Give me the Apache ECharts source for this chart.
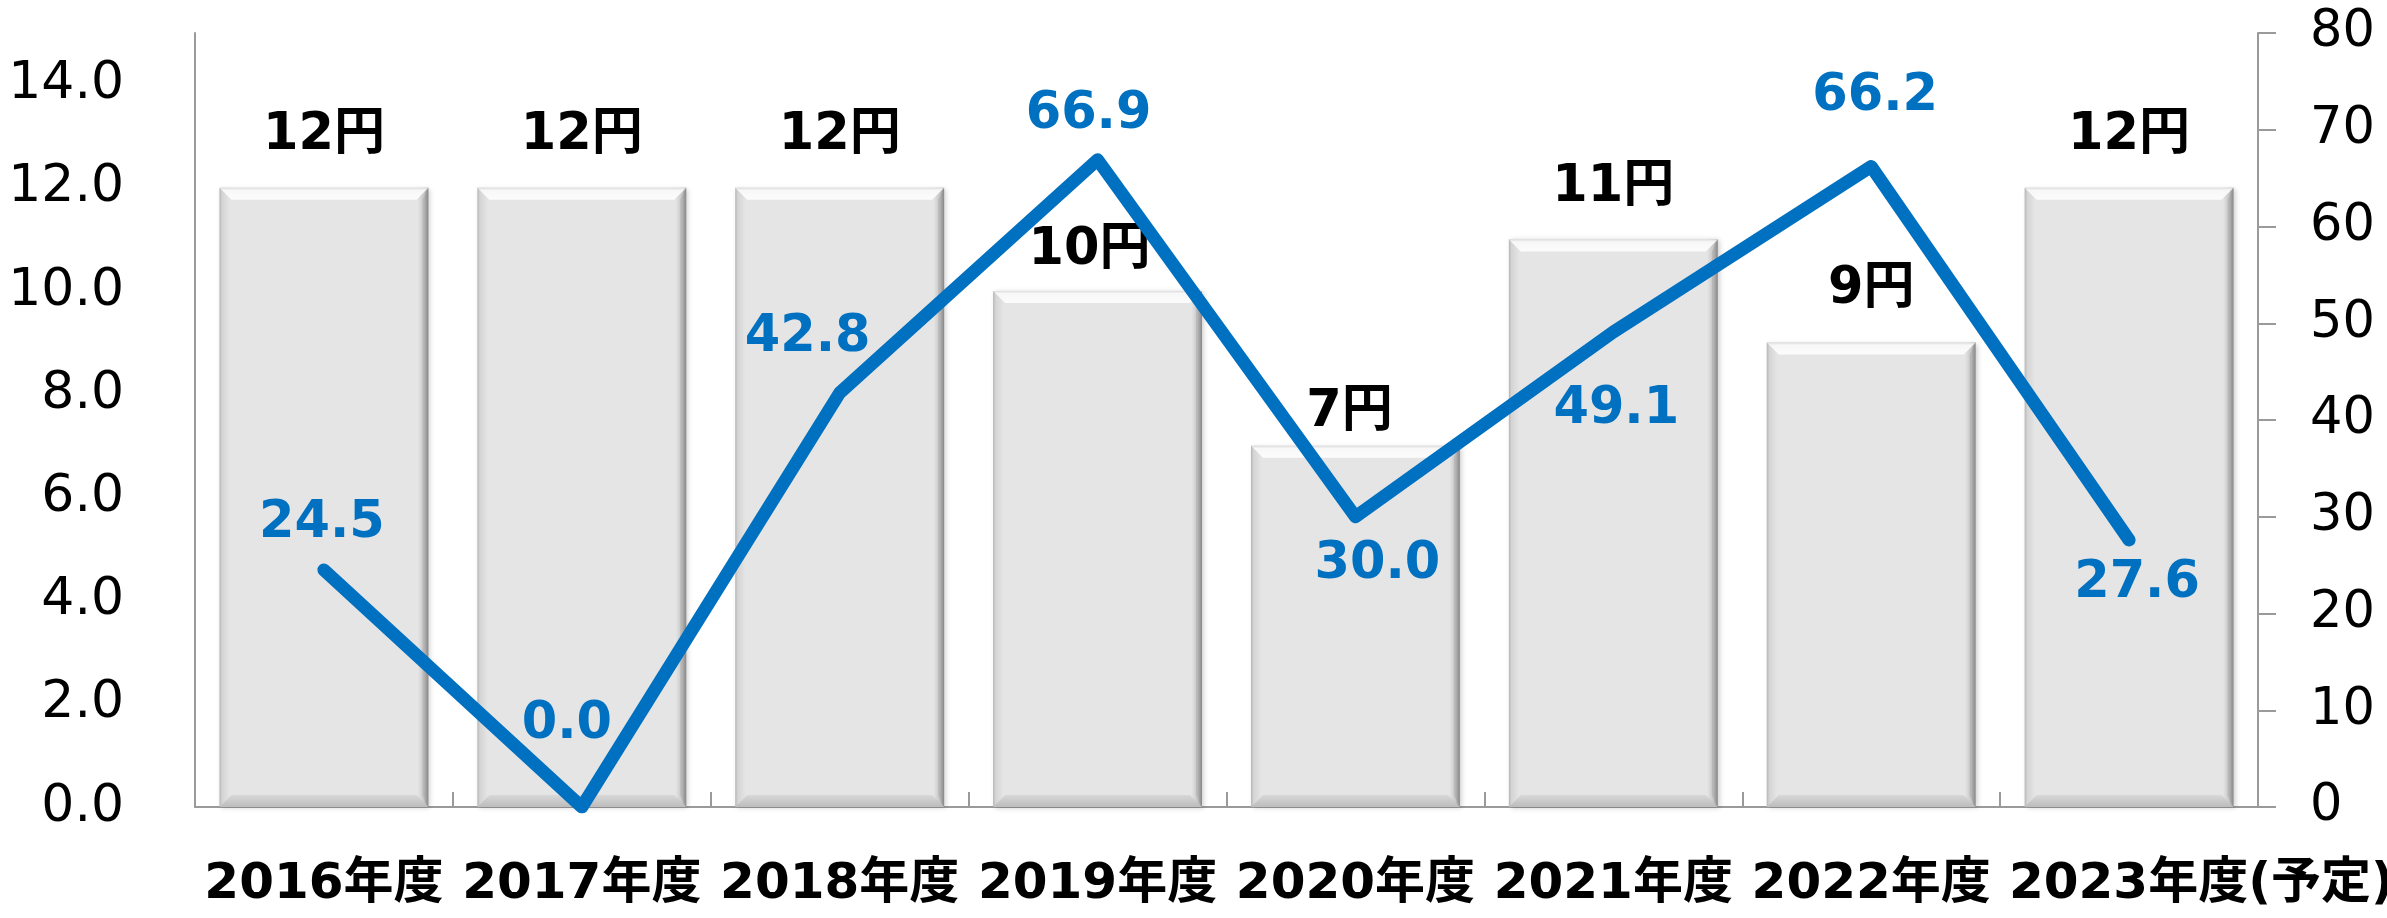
<!DOCTYPE html>
<html>
<head>
<meta charset="utf-8">
<script src="https://cdn.jsdelivr.net/npm/echarts@6/dist/echarts.min.js"></script>
<style>
  html, body { margin: 0; padding: 0; background: #ffffff; }
  #chart { width: 2387px; height: 918px; }
</style>
</head>
<body>
<div id="chart"></div>
<script>
// Fiscal years on the category axis
const fiscalYears = ['2016年度', '2017年度', '2018年度', '2019年度', '2020年度', '2021年度', '2022年度', '2023年度(予定)'];
// Annual dividend per share (yen), left axis
const dividendYen = [12, 12, 12, 10, 7, 11, 9, 12];
// Payout ratio (%), right axis
const payoutRatio = [24.5, 0.0, 42.8, 66.9, 30.0, 49.1, 66.2, 27.6];

// Axis ranges
const leftAxisMax = 15, leftAxisStep = 2;
const rightAxisMax = 80, rightAxisStep = 10;

// Label placement (pixels): dividend labels sit above the bar top, ratio labels around the line vertex
const dividendLabelLift = [52, 52, 52, 40, 33, 52, 53, 52];
const dividendLabelShift = [0, 0, 0, -8, -6, 0, 0, 0];
const ratioLabelOffsets = [[-2, -46], [-15, -82], [-32, -55], [-9, -45], [22, 48], [3, 78], [4, -70], [8, 44]];

const FONT = "'DejaVu Sans', 'Noto Sans CJK JP', sans-serif";
const AXIS_GRAY = '#9a9a9a';
const BLUE = '#0070C0';

const chart = echarts.init(document.getElementById('chart'), null, { renderer: 'canvas' });

// Bevelled grey column drawn from the axis scales
function renderBevelBar(params, api) {
  const idx = api.value(0);
  const val = api.value(1);
  const top = api.coord([idx, val]);
  const base = api.coord([idx, 0]);
  const w = api.size([1, 0])[0] * 0.81;
  const cx = top[0];
  const x0 = cx - w / 2, x1 = cx + w / 2;
  const y0 = top[1], y1 = base[1];
  const b = 12;
  return {
    type: 'group',
    children: [
      {
        type: 'rect',
        shape: { x: x0, y: y0, width: w, height: y1 - y0 },
        style: {
          fill: new echarts.graphic.LinearGradient(0, 0, 1, 0, [
            { offset: 0, color: '#b4b4b4' },
            { offset: 0.012, color: '#d4d4d4' },
            { offset: 0.05, color: '#e5e5e5' },
            { offset: 0.95, color: '#e5e5e5' },
            { offset: 0.98, color: '#c4c4c4' },
            { offset: 1, color: '#8c8c8c' }
          ]),
          shadowColor: 'rgba(0,0,0,0.2)',
          shadowBlur: 5,
          shadowOffsetX: 2,
          shadowOffsetY: 1
        }
      },
      {
        type: 'polygon',
        shape: { points: [[x0, y0], [x1, y0], [x1 - b, y0 + b], [x0 + b, y0 + b]] },
        style: {
          fill: new echarts.graphic.LinearGradient(0, 0, 0, 1, [
            { offset: 0, color: '#dcdcdc' },
            { offset: 0.2, color: '#f7f7f7' },
            { offset: 1, color: '#fcfcfc' }
          ])
        }
      },
      {
        type: 'polygon',
        shape: { points: [[x1, y0], [x1, y1], [x1 - b * 0.5, y1 - b], [x1 - b * 0.5, y0 + b]] },
        style: { fill: 'rgba(120,120,120,0.2)' }
      },
      {
        type: 'polygon',
        shape: { points: [[x0 + b, y1 - b], [x1 - b, y1 - b], [x1, y1], [x0, y1]] },
        style: {
          fill: new echarts.graphic.LinearGradient(0, 0, 0, 1, [
            { offset: 0, color: '#d8d8d8' },
            { offset: 1, color: '#bcbcbc' }
          ])
        }
      },
      {
        type: 'text',
        style: {
          text: val + '円',
          x: cx + dividendLabelShift[idx],
          y: y0 - dividendLabelLift[idx],
          align: 'center',
          verticalAlign: 'middle',
          fontSize: 51,
          fontWeight: 'bold',
          fontFamily: FONT,
          fill: '#000000'
        }
      }
    ]
  };
}

const option = {
  backgroundColor: '#ffffff',
  animation: false,
  grid: { left: 195, right: 129, top: 33, bottom: 111, containLabel: false, outerBoundsMode: 'none' },
  xAxis: {
    type: 'category',
    data: fiscalYears,
    boundaryGap: true,
    axisLine: { show: true, lineStyle: { color: AXIS_GRAY, width: 2 } },
    axisTick: { show: true, inside: true, length: 15, alignWithLabel: false, lineStyle: { color: AXIS_GRAY, width: 2 } },
    splitLine: { show: false },
    axisLabel: {
      interval: 0,
      margin: 53,
      color: '#000000',
      fontSize: 50,
      fontWeight: 'bold',
      fontFamily: FONT,
      // a trailing note in brackets runs on past the centred year
      formatter: function (name) {
        const cut = name.indexOf('(');
        if (cut < 0) return name;
        return '{m|' + name.slice(0, cut) + '}{o|' + name.slice(cut) + '}';
      },
      rich: {
        m: { fontSize: 50, fontWeight: 'bold', fontFamily: FONT, color: '#000000', align: 'left' },
        o: { fontSize: 50, fontWeight: 'bold', fontFamily: FONT, color: '#000000', width: 1, align: 'left' }
      }
    }
  },
  yAxis: [
    {
      type: 'value',
      min: 0,
      max: leftAxisMax,
      interval: leftAxisStep,
      position: 'left',
      axisLine: { show: true, lineStyle: { color: AXIS_GRAY, width: 2 } },
      axisTick: { show: false },
      splitLine: { show: false },
      axisLabel: {
        showMaxLabel: false,
        margin: 71,
        color: '#000000',
        fontSize: 52,
        fontFamily: FONT,
        formatter: function (v) { return v.toFixed(1); }
      }
    },
    {
      type: 'value',
      min: 0,
      max: rightAxisMax,
      interval: rightAxisStep,
      position: 'right',
      axisLine: { show: true, lineStyle: { color: AXIS_GRAY, width: 2 } },
      axisTick: { show: true, inside: false, length: 18, lineStyle: { color: AXIS_GRAY, width: 2 } },
      splitLine: { show: false },
      axisLabel: {
        margin: 52,
        color: '#000000',
        fontSize: 51,
        fontFamily: FONT
      }
    }
  ],
  series: [
    {
      name: '配当',
      type: 'custom',
      yAxisIndex: 0,
      z: 2,
      renderItem: renderBevelBar,
      encode: { x: 0, y: 1 },
      data: dividendYen.map(function (v, i) { return [i, v]; })
    },
    {
      name: '配当性向',
      type: 'line',
      yAxisIndex: 1,
      z: 5,
      symbol: 'circle',
      symbolSize: 1,
      showSymbol: true,
      itemStyle: { color: BLUE },
      lineStyle: { color: BLUE, width: 13, cap: 'round', join: 'round' },
      label: {
        show: true,
        position: 'inside',
        color: BLUE,
        fontSize: 51,
        fontWeight: 'bold',
        fontFamily: FONT,
        formatter: function (p) { return Number(p.value).toFixed(1); }
      },
      data: payoutRatio.map(function (v, i) {
        return { value: v, label: { offset: ratioLabelOffsets[i] } };
      })
    }
  ]
};

chart.setOption(option);
</script>
</body>
</html>
